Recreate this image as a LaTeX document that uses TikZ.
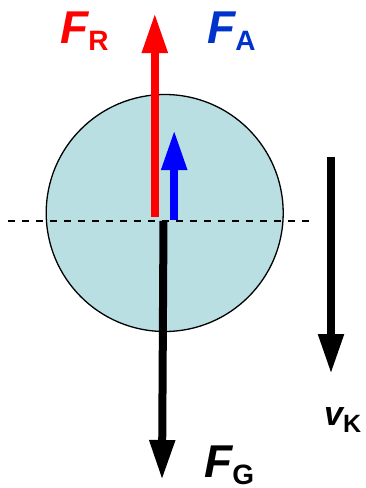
\documentclass[tikz,border=0pt]{standalone}
\usepackage{fontspec}
\setmainfont{Liberation Sans}
\usetikzlibrary{arrows.meta, positioning}
\definecolor{kugelfill}{RGB}{185,223,226}
\definecolor{fablau}{RGB}{0,51,204}
\newcommand{\kidx}[2]{\raisebox{-7pt}{\fontsize{#1}{#1}\selectfont\upshape #2}}

\begin{document}
\begin{tikzpicture}[x=1pt, y=-1pt,
      kraft/.style={line width=8pt, -{Triangle[width=24pt,length=40pt]}},
      lbl/.style={inner sep=0pt, anchor=base west, font=\fontsize{46}{46}\selectfont\bfseries\itshape},
      achse/.style={line width=2pt, dash pattern=on 7pt off 7pt},
    ]
    \useasboundingbox (0,0) rectangle (365,488);
    \node[circle, draw, line width=1.3pt, fill=kugelfill, minimum size=237pt, inner sep=0pt] (kugel) at (164.7,213) {};
    \coordinate (links) at (8,220.5);
    \coordinate (rechts) at (310,220.5);
    \draw[achse] (links) -- (rechts);
    % forces
    \coordinate (fr0) at (154.8,217);  \coordinate (fr1) at (154.8,13);
    \coordinate (fa0) at (174.2,220);  \coordinate (fa1) at (174.2,130);
    \coordinate (fg0) at (163.5,221);  \coordinate (fg1) at (162,480);
    \coordinate (vk0) at (331,157);    \coordinate (vk1) at (331,374);
    \draw[kraft, red] (fr0) -- (fr1);
    \draw[kraft, blue] (fa0) -- (fa1);
    \draw[kraft, black] (fg0) -- (fg1);
    \draw[kraft, black] (vk0) -- (vk1);
    % labels
    \node[lbl, red] (lfr) at (60,43) {F\kidx{28}{R}};
    \node[lbl, fablau] (lfa) at (207,43) {F\kidx{28}{A}};
    \node[lbl] (lfg) at (204,477) {F\kidx{28}{G}};
    \node[lbl, font=\fontsize{34}{34}\selectfont\bfseries\itshape] (lvk) at (324,425) {v\kidx{25}{K}};
  \end{tikzpicture}
\end{document}
